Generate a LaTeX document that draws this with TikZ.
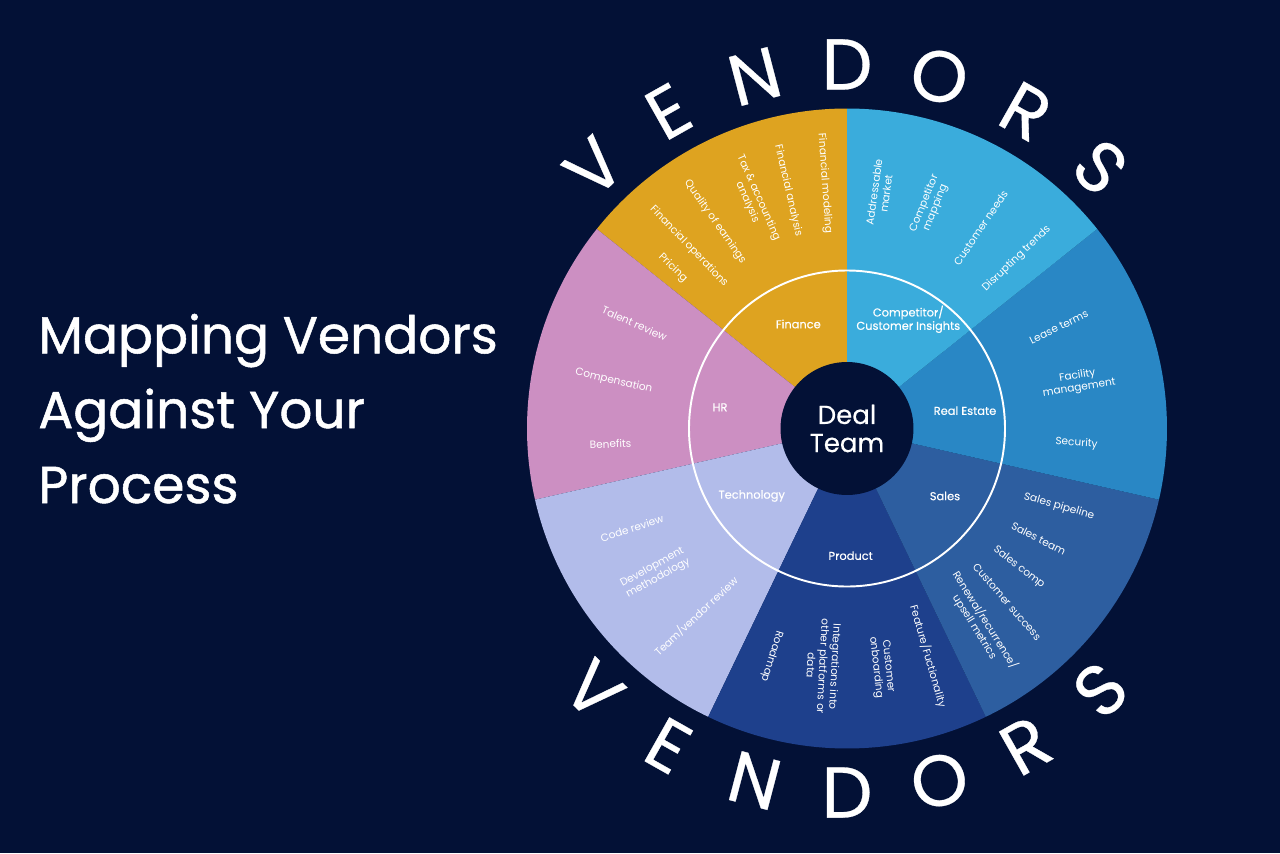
\documentclass[tikz,border=0pt]{standalone}
\usepackage{fontspec}
\setmainfont{Poppins}
\newfontfamily\heavyfont[FakeBold=1]{Poppins}
\newfontfamily\midfont[FakeBold=0.4]{Poppins}
\usepackage{tikz}
\usetikzlibrary{positioning}
\definecolor{navybg}{RGB}{3,17,54}
\definecolor{finyellow}{RGB}{222,163,32}
\definecolor{compsky}{RGB}{58,172,220}
\definecolor{realblue}{RGB}{41,135,197}
\definecolor{salesblue}{RGB}{45,94,160}
\definecolor{prodblue}{RGB}{30,64,140}
\definecolor{techlav}{RGB}{178,188,234}
\definecolor{hrpink}{RGB}{204,143,194}

\begin{document}
\begin{tikzpicture}[x=0.02cm,y=0.02cm,
  lbl/.style={text=white,font=\fontsize{6}{6.9}\selectfont,align=center,inner sep=0pt},
  hub/.style={text=white,font=\midfont\fontsize{6.5}{7.6}\selectfont,align=center,inner sep=0pt},
  ring/.style={text=white,font=\midfont\fontsize{41}{41}\selectfont,inner sep=0pt},
  ttl/.style={text=white,font=\heavyfont\fontsize{29.5}{36}\selectfont,anchor=base west,inner sep=0pt}]
  %% background
  \fill[navybg](-847,-424.5)rectangle(433,428.5);
  %% wedges
  \foreach \c [count=\i from 0] in {finyellow,hrpink,techlav,prodblue,salesblue,realblue,compsky}
    \fill[\c](0,0)--({90+360/7*\i}:320) arc[start angle={90+360/7*\i},delta angle={360/7},radius=320]--cycle;
  \draw[white,line width=1.1pt](0,0) circle[radius=158];
  \node[circle,fill=navybg,minimum size=2.66cm,inner sep=0pt,text=white,align=center,
    font=\midfont\fontsize{14.8}{16}\selectfont](deal) at (0,0){Deal\\Team};
  %% inner ring
  \node[hub](finance) at (-48.7,104.5){Finance};
  \node[hub](insights) at (61.3,109.2){Competitor/\\Customer Insights};
  \node[hub](estate) at (118,17.8){Real Estate};
  \node[hub](sales) at (98,-67.5){Sales};
  \node[hub](product) at (3.7,-127.2){Product};
  \node[hub](tech) at (-95.3,-67.5){Technology};
  \node[hub](hr) at (-127,21.2){HR};
  %% Finance
  \node[lbl,rotate=-86](fa1) at (95.2:246){Financial modeling};
  \node[lbl,rotate=-77](fa2) at (103.9:245){Financial analysis};
  \node[lbl,rotate=-66](fa3) at (112.4:247){Tax \& accounting\\analysis};
  \node[lbl,rotate=-55](fa4) at (122.6:245){Quality of earnings};
  \node[lbl,rotate=-46](fa5) at (131:241){Financial operations};
  \node[lbl,rotate=-44](fa6) at (137.3:237){Pricing};
  %% Competitor / Customer Insights
  \node[lbl,rotate=82](ca1) at (82:238){Addressable\\market};
  \node[lbl,rotate=68](ca2) at (69.6:238){Competitor\\mapping};
  \node[lbl,rotate=56](ca3) at (56.3:241){Customer needs};
  \node[lbl,rotate=44](ca4) at (45:240){Disrupting trends};
  %% Real Estate
  \node[lbl,rotate=26](ra1) at (25.6:235){Lease terms};
  \node[lbl,rotate=9](ra2) at (11.4:236){Facility\\management};
  \node[lbl,rotate=-4](ra3) at (-3.7:230){Security};
  %% Sales
  \node[lbl,rotate=-16](sa1) at (-20.2:226){Sales pipeline};
  \node[lbl,rotate=-27](sa2) at (-29.9:221){Sales team};
  \node[lbl,rotate=-38](sa3) at (-38.9:221){Sales comp};
  \node[lbl,rotate=-49](sa4) at (-47.3:236){Customer success};
  \node[lbl,rotate=-58](sa5) at (-55.7:236){Renewal/recurrence/\\upsell metrics};
  %% Product
  \node[lbl,rotate=-107](pa1) at (251.7:240){Roadmap};
  \node[lbl,rotate=-93](pa2) at (264.3:239){Integrations into\\other platforms or\\data};
  \node[lbl,rotate=-84](pa3) at (278.3:241){Customer\\onboarding};
  \node[lbl,rotate=-74](pa4) at (289.6:242){Feature/Fuctionality};
  %% Technology
  \node[lbl,rotate=18](ta1) at (204.9:237){Code review};
  \node[lbl,rotate=29](ta2) at (217:240){Development\\methodology};
  \node[lbl,rotate=43](ta3) at (231.2:241){Team/vendor review};
  %% HR
  \node[lbl,rotate=-24](ha1) at (153.7:237){Talent review};
  \node[lbl,rotate=-13](ha2) at (168.5:238){Compensation};
  \node[lbl,rotate=2](ha3) at (183.7:237){Benefits};
  %% VENDORS round the wheel
  \foreach \l [count=\i] in {V,E,N,D,O,R,S}{
    \node[ring,rotate={14.7*(4-\i)}](vt\i) at ({90+14.7*(4-\i)}:364){\l};
    \node[ring,rotate={14.7*(\i-4)}](vb\i) at ({270+14.7*(\i-4)}:364){\l};
  }
  %% title
  \node[ttl](ttl1) at (-809,75.2){Mapping Vendors};
  \node[ttl](ttl2) at (-809,0.5){Against Your};
  \node[ttl](ttl3) at (-809,-74.5){Process};
\end{tikzpicture}
\end{document}
